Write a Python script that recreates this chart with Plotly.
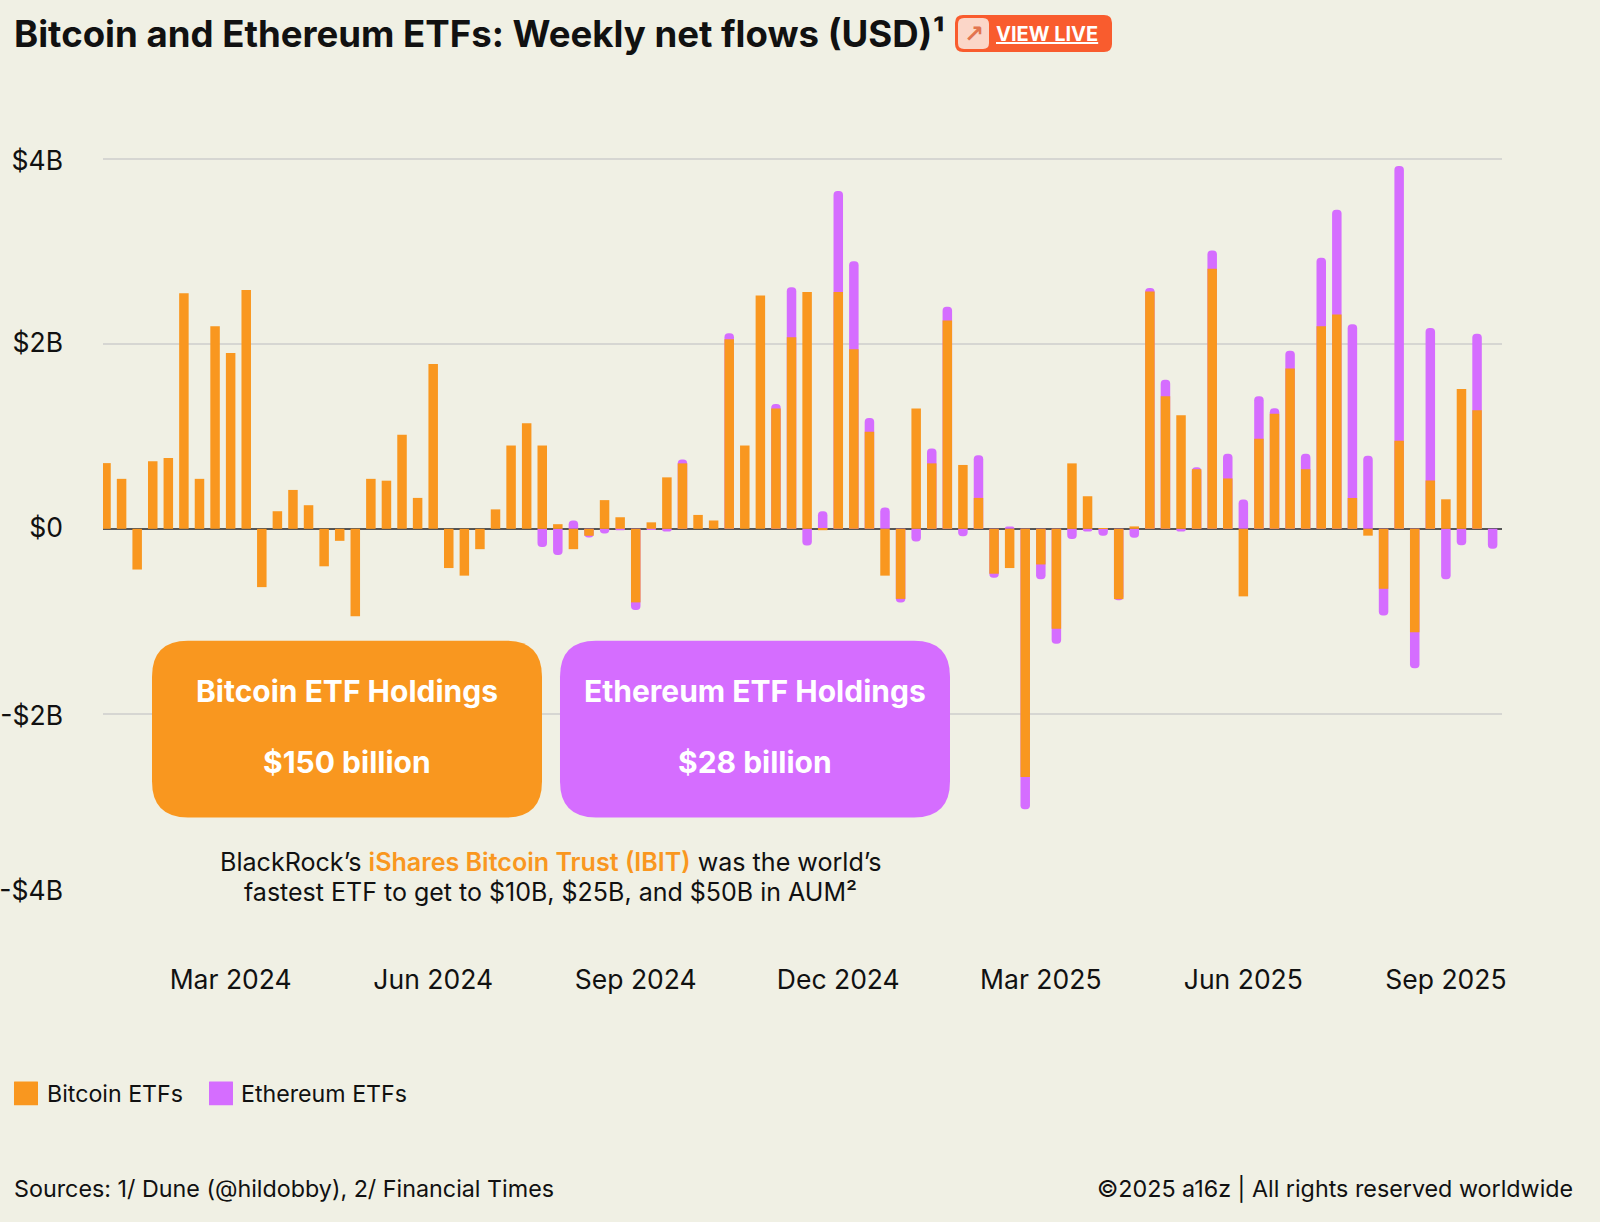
import pandas as pd
import plotly.graph_objects as go

# ---------- data (USD billions, weekly) ----------
week_start = "2024-01-05"
bitcoin_flows = [
    0.71, 0.54, -0.44, 0.73, 0.765, 2.546, 0.54, 2.19, 1.90, 2.58,
    -0.63, 0.19, 0.42, 0.255, -0.405, -0.13, -0.945, 0.54, 0.52, 1.016,
    0.334, 1.78, -0.424, -0.506, -0.22, 0.21, 0.90, 1.14, 0.90, 0.05,
    -0.22, -0.075, 0.31, 0.125, -0.795, 0.07, 0.556, 0.707, 0.15, 0.09,
    2.047, 0.90, 2.52, 1.30, 2.07, 2.56, -0.015, 2.56, 1.94, 1.05,
    -0.506, -0.757, 1.30, 0.707, 2.25, 0.69, 0.334, -0.485, -0.424, -2.682,
    -0.385, -1.08, 0.707, 0.352, 0.008, -0.76, 0.026, 2.563, 1.433, 1.226,
    0.644, 2.81, 0.544, -0.73, 0.974, 1.244, 1.733, 0.644, 2.19, 2.315,
    0.333, -0.074, -0.648, 0.952, -1.119, 0.522, 0.319, 1.511, 1.281, 0.0,
]
ethereum_flows = [
    0, 0, 0, 0, 0, 0, 0, 0, 0, 0,
    0, 0, 0, 0, 0, 0, 0, 0, 0, 0,
    0, 0, 0, 0, 0, 0, 0, 0, -0.197, -0.284,
    0.09, -0.02, -0.05, -0.015, -0.083, -0.012, -0.03, 0.043, 0, 0,
    0.065, 0, 0, 0.05, 0.54, -0.18, 0.19, 1.09, 0.95, 0.147,
    0.23, -0.04, -0.136, 0.16, 0.15, -0.08, 0.46, -0.043, 0.026, -0.348,
    -0.16, -0.163, -0.11, -0.03, -0.074, -0.012, -0.096, 0.04, 0.178, -0.03,
    0.022, 0.196, 0.267, 0.318, 0.459, 0.06, 0.19, 0.167, 0.74, 1.133,
    1.878, 0.789, -0.289, 2.967, -0.389, 1.648, -0.544, -0.178, 0.826, -0.215,
]
x_tick_index = [8, 21, 34, 47, 60, 73, 86]
x_tick_labels = ["Mar 2024", "Jun 2024", "Sep 2024", "Dec 2024", "Mar 2025", "Jun 2025", "Sep 2025"]
y_tick_values = [3.975, 2.01, 0.01, -2.02, -3.91]
y_tick_labels = ["$4B", "$2B", "$0", "-$2B", "-$4B"]
y_grid_values = [4, 2, -2]

# ---------- style ----------
BG = "#F0F0E4"
ORANGE = "#F9971F"
PURPLE = "#D56DFF"
INK = "#111111"
W, H = 1600, 1222
L, R, T, B = 103, 1502, 154, 899.5
FONT = "Inter"

weeks = pd.date_range(week_start, periods=len(bitcoin_flows), freq="7D")
# Stack by painting: the Ethereum bar reaches the stacked total when both flow the same
# way, and the Bitcoin bar is painted over its inner part, so only its outer end is rounded.
ethereum_reach = [b + e if b * e > 0 else e for b, e in zip(bitcoin_flows, ethereum_flows)]

fig = go.Figure()
fig.add_bar(x=weeks, y=ethereum_reach, customdata=ethereum_flows, name="Ethereum ETFs",
            hovertemplate="%{x|%b %d, %Y}: %{customdata}B<extra>Ethereum ETFs</extra>",
            marker=dict(color=PURPLE, line_width=0, cornerradius=4))
fig.add_bar(x=weeks, y=bitcoin_flows, name="Bitcoin ETFs", marker=dict(color=ORANGE, line_width=0))


def px(x):
    return (x - L) / (R - L)


def py(y):
    return (B - y) / (B - T)


def rounded(x0, y0, x1, y1, r):
    pts = [
        ("M", x0 + r, y0), ("L", x1 - r, y0), ("Q", x1, y0, x1, y0 + r),
        ("L", x1, y1 - r), ("Q", x1, y1, x1 - r, y1), ("L", x0 + r, y1),
        ("Q", x0, y1, x0, y1 - r), ("L", x0, y0 + r), ("Q", x0, y0, x0 + r, y0),
    ]
    out = []
    for p in pts:
        c = p[0]
        vals = p[1:]
        coords = " ".join(f"{px(vals[i]):.5f},{py(vals[i + 1]):.5f}" for i in range(0, len(vals), 2))
        out.append(f"{c} {coords}")
    return " ".join(out) + " Z"


def box(x0, y0, x1, y1, r, color):
    fig.add_shape(type="path", xref="paper", yref="paper", path=rounded(x0, y0, x1, y1, r),
                  fillcolor=color, line_width=0, layer="above")


def text(x, y, s, size, color=INK, anchor="left", weight=400, family=FONT):
    fig.add_annotation(xref="paper", yref="paper", x=px(x), y=py(y), text=s, showarrow=False,
                       xanchor=anchor, yanchor="middle", align=anchor,
                       font=dict(family=family, size=size, color=color, weight=weight))


# callout boxes
box(152, 641, 542, 818, 36, ORANGE)
box(560, 641, 950, 818, 36, PURPLE)
text(347, 691, "Bitcoin ETF Holdings", 30, "white", "center", 700)
text(347, 762, "$150 billion", 30, "white", "center", 700)
text(754.5, 691, "Ethereum ETF Holdings", 30, "white", "center", 700)
text(754.5, 762, "$28 billion", 30, "white", "center", 700)

# note
text(551, 862, f"BlackRock\u2019s <span style='color:{ORANGE};font-weight:600'>iShares Bitcoin Trust (IBIT)</span> was the world\u2019s",
     25.1, INK, "center")
text(550, 892, "fastest ETF to get to $10B, $25B, and $50B in AUM\u00b2", 25, INK, "center")

# title and button
text(12, 34, "Bitcoin and Ethereum ETFs: Weekly net flows (USD)\u00b9", 36.6, INK, "left", 700)
box(955, 15, 1112, 52, 8, "#F95C2E")
box(958, 18, 989, 49, 6, "#FBD6C8")
text(973.5, 33.5, "\u2197", 24, "#E2744F", "center", 700, "DejaVu Sans")
text(994, 33.5, "<u>VIEW LIVE</u>", 20, "white", "left", 700)

# legend
box(14, 1082, 38, 1106, 0.5, ORANGE)
text(45, 1095, "Bitcoin ETFs", 23.2)
box(209, 1082, 233, 1106, 0.5, PURPLE)
text(239, 1095, "Ethereum ETFs", 23.2)

# footer
text(12, 1189, "Sources: 1/ Dune (@hildobby), 2/ Financial Times", 23.3)
text(1575, 1189, "\u00a92025 a16z | All rights reserved worldwide", 23.3, INK, "right")

fig.update_layout(
    width=W, height=H,
    margin=dict(l=L, r=W - R, t=T, b=H - B, pad=0, autoexpand=False),
    paper_bgcolor=BG, plot_bgcolor=BG,
    barmode="overlay", bargap=0.39,
    showlegend=False,
    font=dict(family=FONT, size=26.5, color=INK),
    xaxis=dict(
        type="date",
        range=["2024-01-03 15:36", "2025-09-23 05:00"],
        tickmode="array",
        tickvals=[weeks[i] for i in x_tick_index],
        ticktext=x_tick_labels,
        showgrid=False, showline=False, ticks="", zeroline=False,
        ticklabelstandoff=62,
    ),
    yaxis=dict(
        range=[-4, 4.05],
        tickmode="array",
        tickvals=y_tick_values,
        ticktext=y_tick_labels,
        showgrid=False, showline=False, ticks="",
        zeroline=True, zerolinecolor="#555555", zerolinewidth=2,
        ticklabelstandoff=39,
        minor=dict(tickmode="array", tickvals=y_grid_values, showgrid=True,
                   gridcolor="#D6D6D2", gridwidth=2, ticks=""),
    ),
)

fig.write_html("out.html", post_script="document.body.style.margin='0';",
               config={"displayModeBar": False})
